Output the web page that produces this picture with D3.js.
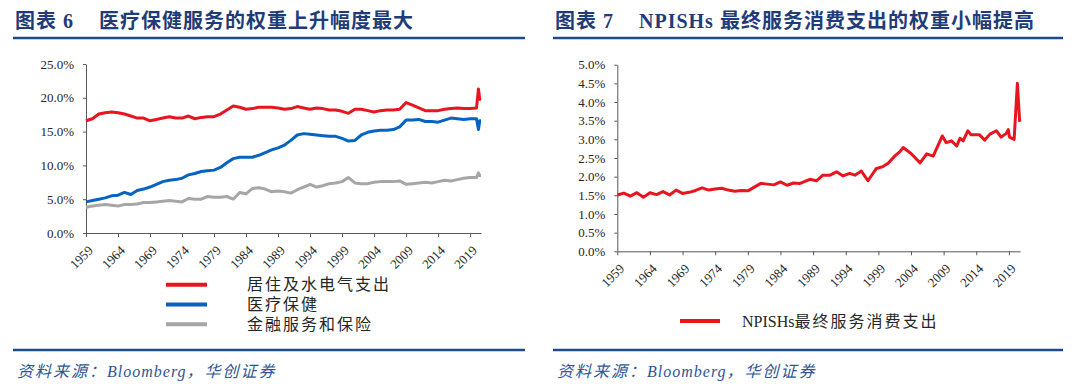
<!DOCTYPE html>
<html>
<head>
<meta charset="utf-8">
<script src="https://cdn.jsdelivr.net/npm/d3@7"></script>
<style>
  body { margin: 0; background: #fff; }
  text { font-family: "Liberation Serif", "Noto Sans CJK SC", serif; }
</style>
</head>
<body>
<div id="chart"></div>
<script>
// x tick years shared by both charts
const tickYears = [1959, 1964, 1969, 1974, 1979, 1984, 1989, 1994, 1999, 2004, 2009, 2014, 2019]

// chart 6: yearly points, with the 2020 months at the end
const leftTimes = [1959, 1960, 1961, 1962, 1963, 1964, 1965, 1966, 1967, 1968, 1969,
    1970, 1971, 1972, 1973, 1974, 1975, 1976, 1977, 1978, 1979,
    1980, 1981, 1982, 1983, 1984, 1985, 1986, 1987, 1988, 1989,
    1990, 1991, 1992, 1993, 1994, 1995, 1996, 1997, 1998, 1999,
    2000, 2001, 2002, 2003, 2004, 2005, 2006, 2007, 2008, 2009,
    2010, 2011, 2012, 2013, 2014, 2015, 2016, 2017, 2018, 2019,
    2020, 2020.3, 2020.5, 2020.7]
const housing = [16.6, 16.9, 17.6, 17.8, 17.9, 17.8, 17.6, 17.3, 17.0, 17.0, 16.6,
    16.8, 17.0, 17.2, 17.0, 17.0, 17.3, 16.9, 17.1, 17.2, 17.2,
    17.6, 18.2, 18.8, 18.6, 18.3, 18.4, 18.6, 18.6, 18.6, 18.5,
    18.3, 18.4, 18.7, 18.5, 18.3, 18.5, 18.4, 18.2, 18.2, 18.0,
    17.7, 18.3, 18.3, 18.1, 17.9, 18.1, 18.2, 18.2, 18.3, 19.3,
    18.9, 18.5, 18.1, 18.1, 18.1, 18.3, 18.4, 18.5, 18.4, 18.4,
    18.5, 21.3, 19.8, 19.7]
const health = [4.6, 4.8, 5.0, 5.2, 5.5, 5.6, 6.0, 5.7, 6.3, 6.5, 6.8,
    7.2, 7.6, 7.8, 7.9, 8.1, 8.6, 8.8, 9.1, 9.2, 9.3,
    9.7, 10.4, 11.0, 11.2, 11.2, 11.2, 11.5, 11.9, 12.3, 12.6,
    13.0, 13.7, 14.5, 14.7, 14.6, 14.5, 14.4, 14.3, 14.3, 14.0,
    13.6, 13.7, 14.5, 14.9, 15.1, 15.2, 15.2, 15.3, 15.7, 16.7,
    16.7, 16.8, 16.5, 16.5, 16.4, 16.7, 17.0, 16.9, 16.8, 16.9,
    16.9, 15.3, 16.6, 16.6]
const finance = [3.8, 4.0, 4.1, 4.2, 4.1, 4.0, 4.2, 4.2, 4.3, 4.5, 4.5,
    4.6, 4.7, 4.8, 4.7, 4.6, 5.1, 5.0, 5.0, 5.4, 5.3,
    5.3, 5.4, 5.0, 6.0, 5.8, 6.6, 6.7, 6.5, 6.1, 6.2,
    6.1, 5.9, 6.4, 6.8, 7.2, 6.8, 7.0, 7.3, 7.4, 7.6,
    8.2, 7.4, 7.3, 7.3, 7.5, 7.6, 7.6, 7.6, 7.7, 7.2,
    7.3, 7.4, 7.5, 7.4, 7.6, 7.8, 7.7, 7.9, 8.1, 8.2,
    8.2, 8.9, 8.5, 8.5]

// chart 7
const rightTimes = [1959, 1960, 1961, 1962, 1963, 1964, 1965, 1966, 1967, 1968, 1969,
    1970, 1971, 1972, 1973, 1974, 1975, 1976, 1977, 1978, 1979,
    1980, 1981, 1982, 1983, 1984, 1985, 1986, 1987, 1988.5, 1989.5,
    1990.5, 1991.6, 1992.6, 1993.6, 1994.6, 1995.4, 1996.4, 1997.4, 1998.7, 1999.7,
    2000.5, 2001.5, 2002.3, 2002.8, 2004, 2005.4, 2006.4, 2007.4, 2008.8, 2009.4,
    2010.2, 2011, 2011.5, 2012, 2012.7, 2013.2, 2014.5, 2015.3, 2016.1, 2017.1,
    2017.8, 2018.6, 2018.9, 2019.1, 2019.8, 2020.3, 2020.65]
const npish = [1.51, 1.56, 1.48, 1.57, 1.45, 1.57, 1.52, 1.60, 1.51, 1.64, 1.55,
    1.58, 1.63, 1.70, 1.64, 1.67, 1.69, 1.64, 1.61, 1.63, 1.62,
    1.72, 1.82, 1.80, 1.78, 1.86, 1.77, 1.83, 1.82, 1.93, 1.89,
    2.04, 2.04, 2.13, 2.02, 2.09, 2.04, 2.15, 1.89, 2.22, 2.27,
    2.36, 2.55, 2.67, 2.78, 2.62, 2.37, 2.61, 2.55, 3.09, 2.91,
    2.96, 2.82, 3.03, 2.96, 3.23, 3.12, 3.12, 2.98, 3.14, 3.23,
    3.06, 3.16, 3.26, 3.06, 3.00, 4.50, 3.47]

const leftSeries = [
    { name: "居住及水电气支出", values: housing, color: "#e8141e" },
    { name: "医疗保健", values: health, color: "#0563c1" },
    { name: "金融服务和保险", values: finance, color: "#a6a6a6" }
]
const rightSeries = [
    { name: "NPISHs最终服务消费支出", values: npish, color: "#e8141e" }
]

const navy = "#1f3c78"
const svg = d3.select("#chart").append("svg")
    .attr("width", 1080)
    .attr("height", 386)
    .style("background", "#fff")

// titles, rules and source lines
function frame(x0, x1, num, title) {
    svg.append("text").attr("x", x0 + 2).attr("y", 28)
        .attr("font-size", 20).attr("font-weight", "bold").attr("fill", navy)
        .attr("letter-spacing", 1).text("图表")
    svg.append("text").attr("x", x0 + 50).attr("y", 28)
        .attr("font-size", 20).attr("font-weight", "bold").attr("fill", navy)
        .text(num)
    svg.append("text").attr("x", x0 + 86).attr("y", 28)
        .attr("font-size", 20).attr("font-weight", "bold").attr("fill", navy)
        .attr("letter-spacing", 1).text(title)
    svg.append("line").attr("x1", x0).attr("x2", x1).attr("y1", 38).attr("y2", 38)
        .attr("stroke", "#1f4a8c").attr("stroke-width", 2.5)
    svg.append("line").attr("x1", x0).attr("x2", x1).attr("y1", 350).attr("y2", 350)
        .attr("stroke", "#1f4a8c").attr("stroke-width", 2.5)
    const src = svg.append("text").attr("x", x0 + 4).attr("y", 377)
        .attr("font-size", 16).attr("font-style", "italic").attr("fill", "#2f5597")
    src.append("tspan").attr("letter-spacing", 2).text("资料来源：")
    src.append("tspan").attr("letter-spacing", 1).text("Bloomberg")
    src.append("tspan").attr("letter-spacing", 2).text("，华创证券")
}
frame(13, 525, "6", "医疗保健服务的权重上升幅度最大")
frame(553, 1063, "7", "NPISHs 最终服务消费支出的权重小幅提高")

function drawChart(opts) {
    const x = d3.scaleLinear().domain([1959, 2020.7]).range([opts.left, opts.right])
    const y = d3.scaleLinear().domain([0, opts.max]).range([opts.bottom, opts.top])

    const gx = svg.append("g")
        .attr("transform", `translate(0,${opts.bottom})`)
        .call(d3.axisBottom(x).tickValues(tickYears).tickFormat(d3.format("d")).tickSize(4).tickSizeOuter(0))
    gx.selectAll("text")
        .attr("x", 0).attr("y", 0).attr("dy", "0.35em")
        .attr("transform", "translate(4,15) rotate(-45)")
        .style("text-anchor", "end")

    const gy = svg.append("g")
        .attr("transform", `translate(${opts.left},0)`)
        .call(d3.axisLeft(y).tickValues(opts.ticks).tickFormat(d => d.toFixed(1) + "%").tickSize(3).tickSizeOuter(0).tickPadding(9))

    for (const g of [gx, gy]) {
        g.selectAll("path, line").attr("stroke", "#595959")
        g.selectAll("text").attr("font-size", 13).attr("fill", "#262626")
            .attr("font-family", "Liberation Serif")
    }

    const line = d3.line()
        .x((d, i) => x(opts.times[i]))
        .y(d => y(d))

    opts.series.forEach(s => {
        svg.append("path")
            .datum(s.values)
            .attr("d", line)
            .attr("fill", "none")
            .attr("stroke", s.color)
            .attr("stroke-width", 3)
            .attr("stroke-linejoin", "round")
    })
}

drawChart({
    left: 86, right: 481, top: 64, bottom: 233, max: 25,
    ticks: [0, 5, 10, 15, 20, 25], times: leftTimes, series: leftSeries
})
drawChart({
    left: 617.3, right: 1020, top: 64.7, bottom: 251.3, max: 5,
    ticks: d3.range(0, 5.01, 0.5), times: rightTimes, series: rightSeries
})

// legends
leftSeries.forEach((s, i) => {
    const yy = 284.7 + i * 19.8
    svg.append("line").attr("x1", 166).attr("x2", 207).attr("y1", yy).attr("y2", yy)
        .attr("stroke", s.color).attr("stroke-width", 4)
    svg.append("text").attr("x", 247).attr("y", yy).attr("dy", "0.36em")
        .attr("font-size", 16).attr("letter-spacing", 2).attr("fill", "#262626")
        .text(s.name)
})
rightSeries.forEach(s => {
    svg.append("line").attr("x1", 680).attr("x2", 720).attr("y1", 321).attr("y2", 321)
        .attr("stroke", s.color).attr("stroke-width", 4)
    const t = svg.append("text").attr("x", 742).attr("y", 321).attr("dy", "0.36em")
        .attr("font-size", 16).attr("fill", "#262626")
    t.append("tspan").text("NPISHs")
    t.append("tspan").attr("letter-spacing", 2).text("最终服务消费支出")
})
</script>
</body>
</html>
